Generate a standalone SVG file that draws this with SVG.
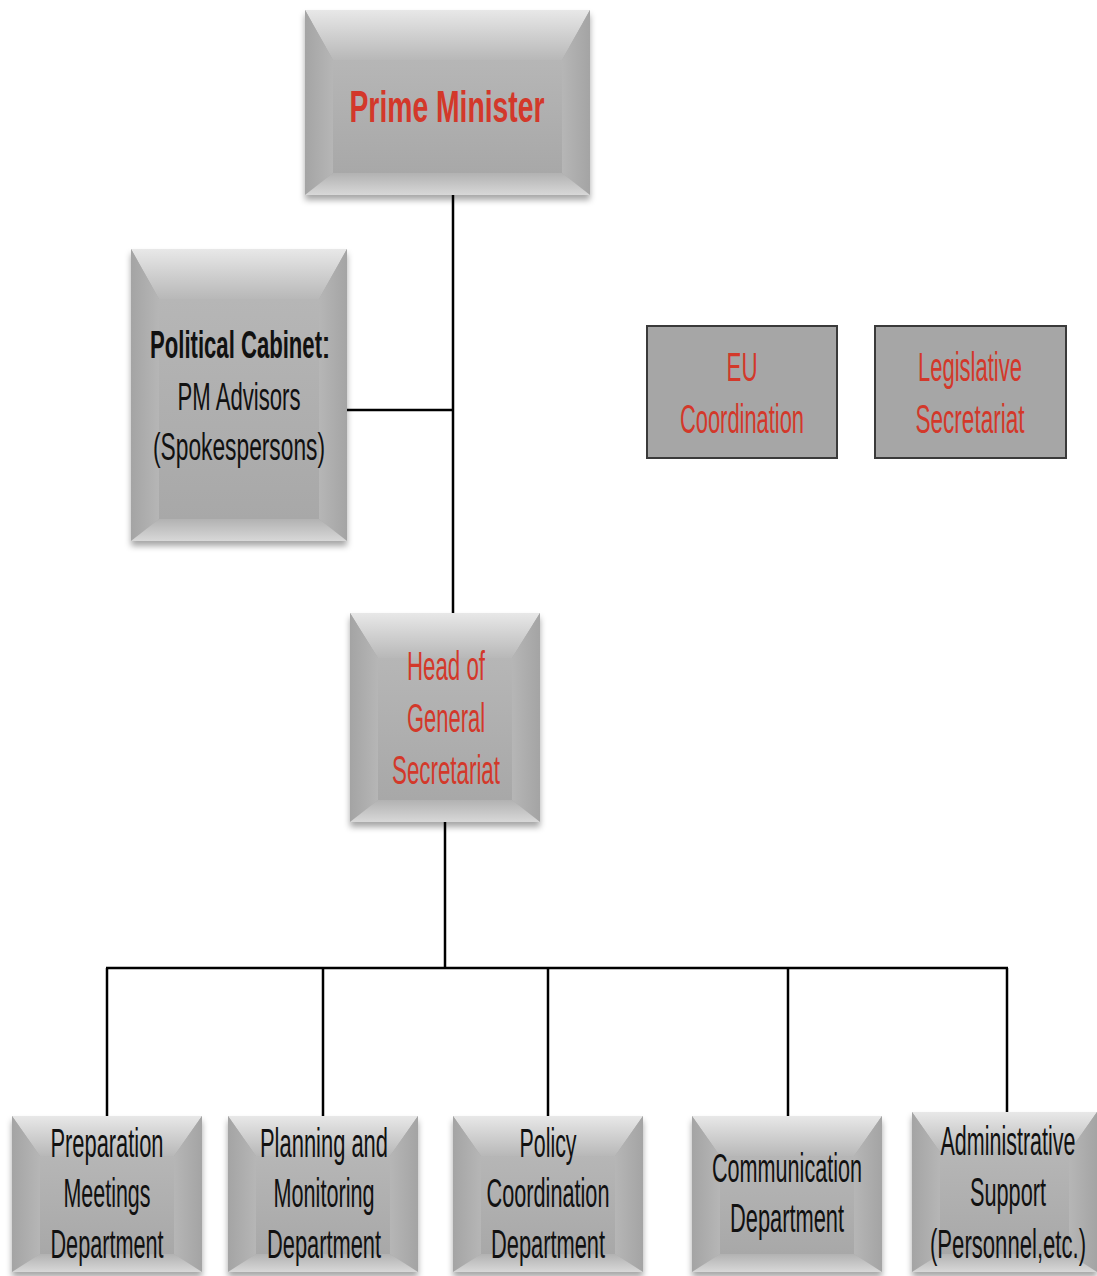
<svg xmlns="http://www.w3.org/2000/svg" width="1097" height="1276" viewBox="0 0 1097 1276">
<defs>
<linearGradient id="gTop" x1="0" y1="0" x2="0" y2="1"><stop offset="0" stop-color="#e8e8e8"/><stop offset="1" stop-color="#b8b8b8"/></linearGradient>
<linearGradient id="gLeft" x1="0" y1="0" x2="1" y2="0"><stop offset="0" stop-color="#a4a4a4"/><stop offset="1" stop-color="#b6b6b6"/></linearGradient>
<linearGradient id="gRight" x1="0" y1="0" x2="1" y2="0"><stop offset="0" stop-color="#b6b6b6"/><stop offset="1" stop-color="#a4a4a4"/></linearGradient>
<linearGradient id="gBot" x1="0" y1="0" x2="0" y2="1"><stop offset="0" stop-color="#b2b2b2"/><stop offset="1" stop-color="#d8d8d8"/></linearGradient>
<linearGradient id="gMid" x1="0" y1="0" x2="0" y2="1"><stop offset="0" stop-color="#b6b6b6"/><stop offset="1" stop-color="#a8a8a8"/></linearGradient>
<filter id="sh" x="-10%" y="-10%" width="120%" height="130%"><feDropShadow dx="0" dy="5" stdDeviation="3" flood-color="#000" flood-opacity="0.35"/></filter>
</defs>
<style>
.t{font-family:"Liberation Sans Narrow","Liberation Sans",Arial,sans-serif;text-anchor:middle}
.red{fill:#d3382a}
.blk{fill:#111}
.top{fill:url(#gTop)}.lft{fill:url(#gLeft)}.rgt{fill:url(#gRight)}.bot{fill:url(#gBot)}.mid{fill:url(#gMid)}
.flat{fill:#a6a6a6;stroke:#3a3a3a;stroke-width:2}
.ln{stroke:#000;stroke-width:2.5;fill:none}
</style>
<rect width="1097" height="1276" fill="#fff"/>
<g id="connectors">
<line class="ln" x1="453" y1="195" x2="453" y2="613"/>
<line class="ln" x1="347" y1="410" x2="453" y2="410"/>
<line class="ln" x1="445" y1="822" x2="445" y2="968"/>
<line class="ln" x1="106" y1="968" x2="1008" y2="968" stroke-width="3.5"/>
<line class="ln" x1="107" y1="968" x2="107" y2="1116"/>
<line class="ln" x1="323" y1="968" x2="323" y2="1116"/>
<line class="ln" x1="548" y1="968" x2="548" y2="1116"/>
<line class="ln" x1="788" y1="968" x2="788" y2="1116"/>
<line class="ln" x1="1007" y1="968" x2="1007" y2="1112"/>
</g>
<g id="prime-minister">
<g filter="url(#sh)"><rect x="305" y="10" width="285" height="185" fill="#aaa"/></g>
<rect class="mid" x="333" y="60" width="229" height="113"/>
<polygon class="top" points="305,10 590,10 562,60 333,60"/>
<polygon class="lft" points="305,10 333,60 333,173 305,195"/>
<polygon class="rgt" points="590,10 590,195 562,173 562,60"/>
<polygon class="bot" points="305,195 333,173 562,173 590,195"/>
<text class="t red" x="447" y="122" font-size="44" font-weight="bold" textLength="195" lengthAdjust="spacingAndGlyphs">Prime Minister</text>
</g>
<g id="political-cabinet">
<g filter="url(#sh)"><rect x="131" y="249" width="216" height="292" fill="#aaa"/></g>
<rect class="mid" x="159" y="299" width="160" height="220"/>
<polygon class="top" points="131,249 347,249 319,299 159,299"/>
<polygon class="lft" points="131,249 159,299 159,519 131,541"/>
<polygon class="rgt" points="347,249 347,541 319,519 319,299"/>
<polygon class="bot" points="131,541 159,519 319,519 347,541"/>
<text class="t blk" x="236" y="358" font-size="38" font-weight="bold" textLength="172" lengthAdjust="spacingAndGlyphs">Political Cabinet</text>
<text class="t blk" x="326" y="358" font-size="38">:</text>
<text class="t blk" x="239" y="410" font-size="38" textLength="123" lengthAdjust="spacingAndGlyphs">PM Advisors</text>
<text class="t blk" x="239" y="460" font-size="38" textLength="172" lengthAdjust="spacingAndGlyphs">(Spokespersons)</text>
</g>
<g id="eu-coordination">
<rect class="flat" x="647" y="326" width="190" height="132"/>
<text class="t red" x="742" y="381" font-size="40" textLength="31" lengthAdjust="spacingAndGlyphs">EU</text>
<text class="t red" x="742" y="433" font-size="40" textLength="124" lengthAdjust="spacingAndGlyphs">Coordination</text>
</g>
<g id="legislative-secretariat">
<rect class="flat" x="875" y="326" width="191" height="132"/>
<text class="t red" x="970" y="381" font-size="40" textLength="104" lengthAdjust="spacingAndGlyphs">Legislative</text>
<text class="t red" x="970" y="433" font-size="40" textLength="109" lengthAdjust="spacingAndGlyphs">Secretariat</text>
</g>
<g id="head-general-secretariat">
<g filter="url(#sh)"><rect x="350" y="613" width="190" height="209" fill="#aaa"/></g>
<rect class="mid" x="378" y="658" width="134" height="142"/>
<polygon class="top" points="350,613 540,613 512,658 378,658"/>
<polygon class="lft" points="350,613 378,658 378,800 350,822"/>
<polygon class="rgt" points="540,613 540,822 512,800 512,658"/>
<polygon class="bot" points="350,822 378,800 512,800 540,822"/>
<text class="t red" x="446" y="680" font-size="40" textLength="78" lengthAdjust="spacingAndGlyphs">Head of</text>
<text class="t red" x="446" y="732" font-size="40" textLength="78" lengthAdjust="spacingAndGlyphs">General</text>
<text class="t red" x="446" y="784" font-size="40" textLength="108" lengthAdjust="spacingAndGlyphs">Secretariat</text>
</g>
<g id="preparation-meetings">
<g filter="url(#sh)"><rect x="12" y="1116" width="190" height="156" fill="#aaa"/></g>
<rect class="mid" x="40" y="1156" width="134" height="98"/>
<polygon class="top" points="12,1116 202,1116 174,1156 40,1156"/>
<polygon class="lft" points="12,1116 40,1156 40,1254 12,1272"/>
<polygon class="rgt" points="202,1116 202,1272 174,1254 174,1156"/>
<polygon class="bot" points="12,1272 40,1254 174,1254 202,1272"/>
<text class="t blk" x="107" y="1157" font-size="40" textLength="113" lengthAdjust="spacingAndGlyphs">Preparation</text>
<text class="t blk" x="107" y="1207" font-size="40" textLength="87" lengthAdjust="spacingAndGlyphs">Meetings</text>
<text class="t blk" x="107" y="1258" font-size="40" textLength="113" lengthAdjust="spacingAndGlyphs">Department</text>
</g>
<g id="planning-monitoring">
<g filter="url(#sh)"><rect x="228" y="1116" width="190" height="156" fill="#aaa"/></g>
<rect class="mid" x="256" y="1156" width="134" height="98"/>
<polygon class="top" points="228,1116 418,1116 390,1156 256,1156"/>
<polygon class="lft" points="228,1116 256,1156 256,1254 228,1272"/>
<polygon class="rgt" points="418,1116 418,1272 390,1254 390,1156"/>
<polygon class="bot" points="228,1272 256,1254 390,1254 418,1272"/>
<text class="t blk" x="324" y="1157" font-size="40" textLength="128" lengthAdjust="spacingAndGlyphs">Planning  and</text>
<text class="t blk" x="324" y="1207" font-size="40" textLength="101" lengthAdjust="spacingAndGlyphs">Monitoring</text>
<text class="t blk" x="324" y="1258" font-size="40" textLength="114" lengthAdjust="spacingAndGlyphs">Department</text>
</g>
<g id="policy-coordination">
<g filter="url(#sh)"><rect x="453" y="1116" width="190" height="156" fill="#aaa"/></g>
<rect class="mid" x="481" y="1156" width="134" height="98"/>
<polygon class="top" points="453,1116 643,1116 615,1156 481,1156"/>
<polygon class="lft" points="453,1116 481,1156 481,1254 453,1272"/>
<polygon class="rgt" points="643,1116 643,1272 615,1254 615,1156"/>
<polygon class="bot" points="453,1272 481,1254 615,1254 643,1272"/>
<text class="t blk" x="548" y="1157" font-size="40" textLength="57" lengthAdjust="spacingAndGlyphs">Policy</text>
<text class="t blk" x="548" y="1207" font-size="40" textLength="123" lengthAdjust="spacingAndGlyphs">Coordination</text>
<text class="t blk" x="548" y="1258" font-size="40" textLength="114" lengthAdjust="spacingAndGlyphs">Department</text>
</g>
<g id="communication">
<g filter="url(#sh)"><rect x="692" y="1116" width="190" height="156" fill="#aaa"/></g>
<rect class="mid" x="720" y="1156" width="134" height="98"/>
<polygon class="top" points="692,1116 882,1116 854,1156 720,1156"/>
<polygon class="lft" points="692,1116 720,1156 720,1254 692,1272"/>
<polygon class="rgt" points="882,1116 882,1272 854,1254 854,1156"/>
<polygon class="bot" points="692,1272 720,1254 854,1254 882,1272"/>
<text class="t blk" x="787" y="1182" font-size="40" textLength="150" lengthAdjust="spacingAndGlyphs">Communication</text>
<text class="t blk" x="787" y="1232" font-size="40" textLength="114" lengthAdjust="spacingAndGlyphs">Department</text>
</g>
<g id="administrative-support">
<g filter="url(#sh)"><rect x="912" y="1112" width="185" height="160" fill="#aaa"/></g>
<rect class="mid" x="940" y="1152" width="129" height="102"/>
<polygon class="top" points="912,1112 1097,1112 1069,1152 940,1152"/>
<polygon class="lft" points="912,1112 940,1152 940,1254 912,1272"/>
<polygon class="rgt" points="1097,1112 1097,1272 1069,1254 1069,1152"/>
<polygon class="bot" points="912,1272 940,1254 1069,1254 1097,1272"/>
<text class="t blk" x="1008" y="1155" font-size="40" textLength="135" lengthAdjust="spacingAndGlyphs">Administrative</text>
<text class="t blk" x="1008" y="1206" font-size="40" textLength="76" lengthAdjust="spacingAndGlyphs">Support</text>
<text class="t blk" x="1008" y="1258" font-size="40" textLength="156" lengthAdjust="spacingAndGlyphs">(Personnel,etc.)</text>
</g>
</svg>
